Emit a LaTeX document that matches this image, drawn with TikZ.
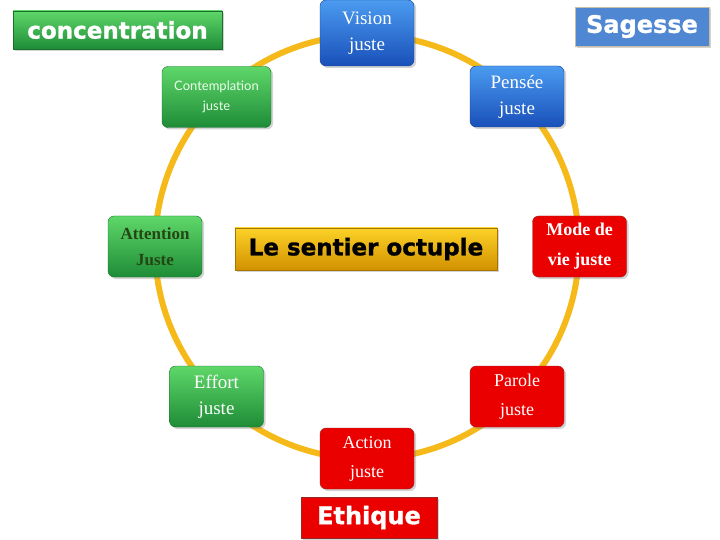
\documentclass[tikz,border=0pt]{standalone}
\usepackage{fontspec}
\setmainfont{Liberation Serif}
\newfontfamily\blk{DejaVu Sans}[BoldFeatures={FakeBold=1.2}]
\newfontfamily\gill{Lato}
\usetikzlibrary{shadows}
\definecolor{ring}{RGB}{245,185,25}
\definecolor{bluetop}{RGB}{75,155,240}
\definecolor{bluebot}{RGB}{25,80,185}
\definecolor{blueflat}{RGB}{80,135,210}
\definecolor{greentop}{RGB}{95,215,105}
\definecolor{greenbot}{RGB}{30,140,55}
\definecolor{redfill}{RGB}{235,0,0}
\definecolor{redline}{RGB}{150,40,40}
\definecolor{goldtop}{RGB}{252,210,40}
\definecolor{goldbot}{RGB}{210,145,0}
\definecolor{darkgreen}{RGB}{35,70,20}
\tikzset{
  shad/.style={drop shadow={shadow xshift=2pt,shadow yshift=-2pt,opacity=0.35}},
  pbox/.style={shad,rounded corners=6pt,minimum width=94pt,minimum height=61pt,inner sep=0pt,align=center,font=\fontsize{18}{26}\selectfont},
  bluebox/.style={pbox,top color=bluetop,bottom color=bluebot,draw=bluebot!80!black,text=white},
  greenbox/.style={pbox,top color=greentop,bottom color=greenbot,draw=greenbot!80!black,text=white},
  redbox/.style={pbox,fill=redfill,draw=redline,text=white},
  title/.style={shad,inner sep=0pt,font=\blk\bfseries\fontsize{23}{26}\selectfont}
}
\begin{document}
\begin{tikzpicture}[x=1pt,y=-1pt]
\useasboundingbox (0,0) rectangle (720,540);
\draw[ring,line width=6pt] (367,247) circle [radius=212];
% titles
\node[title,minimum width=209pt,minimum height=38pt,top color=greentop,bottom color=greenbot,draw=greenbot!80!black,text=white] (conc) at (117.5,30) {concentration};
\node[title,minimum width=134pt,minimum height=39pt,fill=blueflat,draw={rgb,255:red,200;green,190;blue,160},text=white,font=\blk\bfseries\fontsize{24}{26}\selectfont] (sag) at (642,26.5) {Sagesse};
\node[title,minimum width=262pt,minimum height=42pt,top color=goldtop,bottom color=goldbot,draw=goldbot!80!black,text=black] (oct) at (366,249) {Le sentier octuple};
\node[title,minimum width=136pt,minimum height=41pt,fill=redfill,draw=redline,text=white,font=\blk\bfseries\fontsize{24}{26}\selectfont] (eth) at (369,517.5) {Ethique};
% eight nodes
\node[bluebox,minimum height=66pt,font=\fontsize{19}{26}\selectfont] (vis) at (367,33) {Vision\\juste};
\node[bluebox,font=\fontsize{19}{26}\selectfont] (pen) at (517,96.5) {Pensée\\juste};
\node[greenbox,minimum width=109pt,font=\gill\fontsize{13}{20}\selectfont,text=white!92!green] (cont) at (216.5,97) {Contemplation\\juste};
\node[greenbox,text=darkgreen,font=\bfseries\fontsize{17}{26}\selectfont] (att) at (155,246.5) {Attention\\Juste};
\node[redbox,font=\bfseries\fontsize{18}{30}\selectfont] (mode) at (579.5,246.5) {Mode de\\vie juste};
\node[greenbox,font=\fontsize{19}{26}\selectfont] (eff) at (216.5,396.5) {Effort\\juste};
\node[redbox,font=\fontsize{18}{29}\selectfont] (par) at (517,396.5) {Parole\\juste};
\node[redbox,font=\fontsize{18}{29}\selectfont] (act) at (367,458.5) {Action\\juste};
\end{tikzpicture}
\end{document}
